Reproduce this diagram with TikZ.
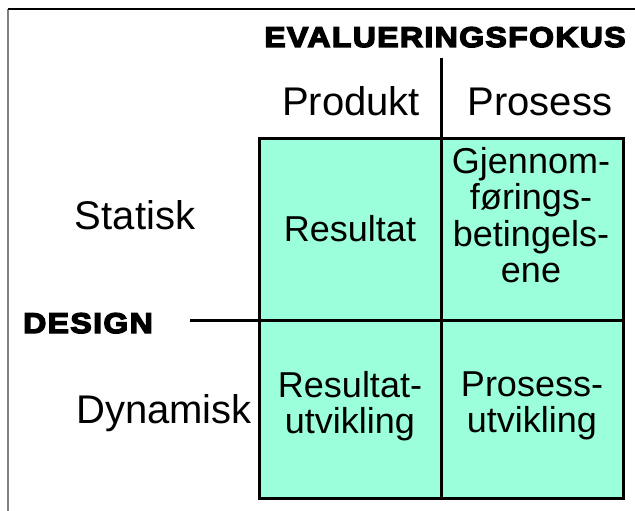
\documentclass[tikz,border=0pt]{standalone}
\usepackage{fontspec}
\setmainfont{Liberation Sans}
\newfontfamily\heavyfont[FakeStretch=1.12,FakeBold=5,LetterSpace=5]{Liberation Sans Bold}
\usepackage{tikz}
\definecolor{cellgreen}{RGB}{155,255,220}

\tikzset{
  axistext/.style={font=\fontsize{40}{40}\selectfont},
  celltext/.style={align=center,font=\fontsize{36}{36.5}\selectfont},
  headtext/.style={font=\heavyfont\fontsize{28.5}{28.5}\selectfont}
}

\begin{document}
\begin{tikzpicture}[x=1pt,y=-1pt]
\useasboundingbox (0,0) rectangle (635,511);
\draw[gray,line width=1.5pt] (8,9) -- (8,511);
\draw[line width=1.2pt] (8,9) -- (635,9);

\fill[cellgreen] (259,138) rectangle (623,498);
\draw[line width=3pt] (259,138) rectangle (623,498);
\coordinate (axistop) at (441,58);
\coordinate (axisbottom) at (441,498);
\coordinate (axisleft) at (190,320);
\coordinate (axisright) at (623,320);
\draw[line width=3pt] (axistop) -- (axisbottom);
\draw[line width=3pt] (axisleft) -- (axisright);

\node[headtext,anchor=base] (fokus) at (445,47) {EVALUERINGSFOKUS};
\node[headtext,anchor=base] (design) at (88,333) {DESIGN};
\node[axistext,anchor=base] (produkt) at (351,115) {Produkt};
\node[axistext,anchor=base] (prosess) at (540,115) {Prosess};
\node[axistext,anchor=base] (statisk) at (135,229) {Statisk};
\node[axistext,anchor=base] (dynamisk) at (164,423) {Dynamisk};

\node[celltext,anchor=base] (resultat) at (350,241) {Resultat};
\node[celltext] (betingelser) at (531,215) {Gjennom-\\førings-\\betingels-\\ene};
\node[celltext] (resultatutv) at (350,406) {Resultat-\\utvikling};
\node[celltext] (prosessutv) at (532,406) {Prosess-\\utvikling};
\end{tikzpicture}
\end{document}
